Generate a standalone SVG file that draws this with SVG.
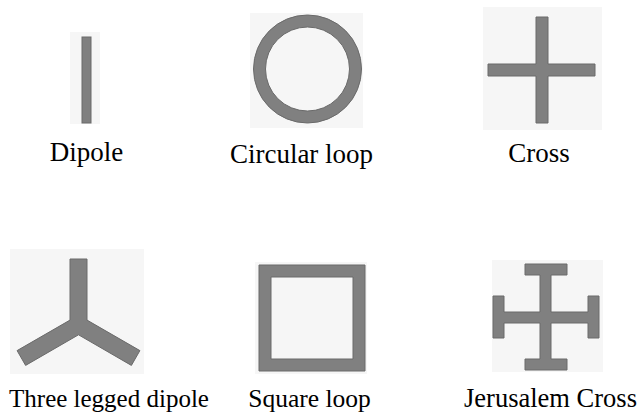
<svg xmlns="http://www.w3.org/2000/svg" width="639" height="413" viewBox="0 0 639 413">
<style>
.bg{fill:#f6f6f6;stroke:none}
.m{fill:#808080;stroke:#6a6a6a;stroke-width:1}
.lbl{font-family:"Liberation Serif","Times New Roman",serif;font-size:25.5px;fill:#000;text-anchor:middle}
.top{font-size:27px}
</style>
<rect width="639" height="413" fill="#fff"/>
<g id="dipole">
<rect class="bg" x="70" y="32" width="30" height="92"/>
<rect class="m" x="82" y="37" width="9" height="86"/>
<text class="lbl top" x="86.5" y="161">Dipole</text>
</g>
<g id="circular-loop">
<rect class="bg" x="250" y="13" width="113" height="115"/>
<circle cx="307.5" cy="69" r="54" fill="#808080" stroke="#6a6a6a" stroke-width="1"/>
<circle cx="307.5" cy="69" r="42" fill="#f6f6f6" stroke="#6a6a6a" stroke-width="1"/>
<text class="lbl top" x="301.5" y="163">Circular loop</text>
</g>
<g id="cross">
<rect class="bg" x="483" y="7" width="119" height="123"/>
<path class="m" d="M536,17 H548 V64 H595 V76 H548 V123 H536 V76 H488 V64 H536 Z"/>
<text class="lbl top" x="539" y="162">Cross</text>
</g>
<g id="three-legged-dipole">
<rect class="bg" x="10" y="249" width="134" height="125"/>
<polygon class="m" points="70,259 87,259 87,320.1 139.9,350.6 131.4,365.4 78.5,334.8 25.6,365.4 17.1,350.6 70,320.1"/>
<text class="lbl" x="109" y="407" style="font-size:25px">Three legged dipole</text>
</g>
<g id="square-loop">
<rect class="bg" x="255" y="262" width="112" height="112"/>
<path class="m" fill-rule="evenodd" d="M259,265 H365 V371 H259 Z M271,277 V359 H353 V277 Z"/>
<text class="lbl" x="309.5" y="407">Square loop</text>
</g>
<g id="jerusalem-cross">
<rect class="bg" x="492" y="260" width="111" height="112"/>
<path class="m" d="M525,264 H567 V275 H551 V312 H588 V296 H599 V338 H588 V323 H551 V359 H567 V370 H525 V359 H540 V323 H504 V338 H493 V296 H504 V312 H540 V275 H525 Z"/>
<text class="lbl" x="550.5" y="407" style="font-size:26.5px">Jerusalem Cross</text>
</g>
<g id="connectors"></g>
</svg>
